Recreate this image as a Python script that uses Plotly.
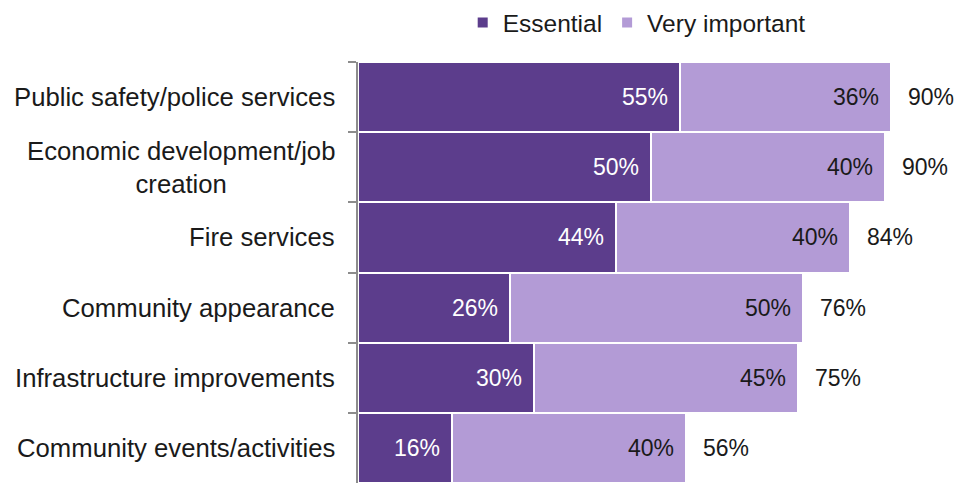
import plotly.graph_objects as go

categories = [
    "Public safety/police services",
    "Economic development/job<br>creation",
    "Fire services",
    "Community appearance",
    "Infrastructure improvements",
    "Community events/activities",
]
essential = [55, 50, 44, 26, 30, 16]
very_important = [36, 40, 40, 50, 45, 40]
totals = [90, 90, 84, 76, 75, 56]

DARK = "#5c3d8c"
LIGHT = "#b39bd6"
FONT = "Liberation Sans"
TXT = "#1a1a1a"

fig = go.Figure()
fig.add_trace(go.Bar(
    y=categories, x=essential, name="Essential", orientation="h",
    marker=dict(color=DARK, line=dict(color="white", width=2)),
    hoverinfo="skip",
))
fig.add_trace(go.Bar(
    y=categories, x=very_important, name="Very important", orientation="h",
    marker=dict(color=LIGHT, line=dict(color="white", width=2)),
    hoverinfo="skip",
))

annotations = []
for c, e, v, t in zip(categories, essential, very_important, totals):
    annotations.append(dict(xref="paper", x=0, y=c, text=c, xanchor="right", xshift=-21,
                            align="center", showarrow=False,
                            font=dict(color=TXT, size=25.7, family=FONT)))
    annotations.append(dict(x=e, y=c, text=f"{e}%", xanchor="right", xshift=-10,
                            showarrow=False, font=dict(color="white", size=23, family=FONT)))
    annotations.append(dict(x=e + v, y=c, text=f"{v}%", xanchor="right", xshift=-10,
                            showarrow=False, font=dict(color=TXT, size=23, family=FONT)))
    annotations.append(dict(x=e + v, y=c, text=f"{t}%", xanchor="left", xshift=15,
                            showarrow=False, font=dict(color=TXT, size=23, family=FONT)))

fig.update_layout(
    barmode="stack",
    bargap=0,
    width=956, height=483,
    margin=dict(l=358, r=12, t=62, b=0),
    paper_bgcolor="white", plot_bgcolor="white",
    font=dict(family=FONT, size=24, color=TXT),
    showlegend=True,
    legend=dict(orientation="h", x=0.666, xanchor="center", y=1.0, yanchor="top",
                xref="container", yref="container", font=dict(size=24.5),
                itemwidth=30, traceorder="normal"),
    annotations=annotations,
    xaxis=dict(range=[0, 100], visible=False, fixedrange=True),
    yaxis=dict(autorange="reversed", showline=True, linecolor="#8c8c8c", linewidth=2,
               ticks="outside", tickson="boundaries", ticklen=8, tickcolor="#8c8c8c",
               tickwidth=2, showticklabels=False, showgrid=False, fixedrange=True),
)

fig.write_html("out.html")
